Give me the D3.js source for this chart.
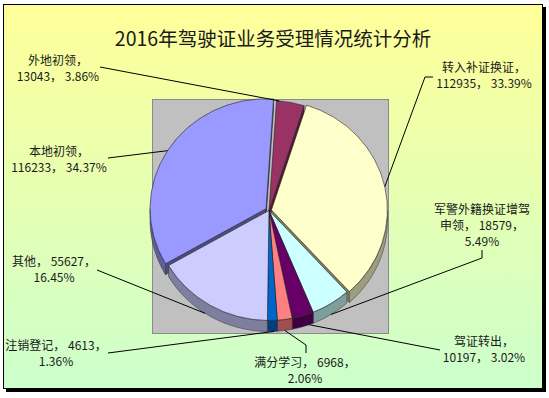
<!DOCTYPE html>
<html><head><meta charset="utf-8">
<script src="https://cdn.jsdelivr.net/npm/d3@7"></script>
<style>html,body{margin:0;padding:0;background:#fff;} svg{display:block;}</style>
</head><body>
<svg id="chart" width="549" height="398"></svg>
<script>
// ---------- DATA ----------
const categories = ["本地初领","外地初领","转入补证换证","军警外籍换证增驾申领","驾证转出","满分学习","注销登记","其他"];
const values = [116233,13043,112935,18579,10197,6968,4613,55627];
const colors = ["#9999FF","#993366","#FFFFCC","#CCFFFF","#660066","#FF8080","#0066CC","#CCCCFF"];
const title = "2016年驾驶证业务受理情况统计分析";

// ---------- LAYOUT ----------
const firstSliceAngle = 240;           // degrees, clockwise from 12 o'clock
const explode = [3.5,0,2.5,0,0,0,0,0]; // px
const labelLayout = [
  {split:"name", x:59,  y:152, anchorFrac:0.5,  leader:[[108,158]]},
  {split:"name", x:58,  y:61,  anchorFrac:0.1,  leader:[[100,67]]},
  {split:"name", x:484, y:68,  anchorFrac:0.5,  leader:[[433,77],[425,77]]},
  {split:"jj",   x:482, y:210, anchorFrac:0.5,  leader:[[482,250],[482,258]]},
  {split:"name", x:484, y:342, anchorFrac:0.2,  leader:[[440,350]]},
  {split:"pct",  x:305, y:363, anchorFrac:0.5,  leader:[[306,353],[306,345]]},
  {split:"pct",  x:56,  y:346, anchorFrac:0.3,  leader:[[108,353]]},
  {split:"pct",  x:54,  y:262, anchorFrac:0.55, leader:[[97,270]]}
];

const W = 549, H = 398;
const cx = 269, cy = 210.5, rx = 116, ry = 110, depth = 11;
const plot = {x:152, y:99, w:236, h:234};

const svg = d3.select("#chart");
const defs = svg.append("defs");
const grad = defs.append("linearGradient").attr("id","bg").attr("x1",0).attr("y1",0).attr("x2",0).attr("y2",1);
grad.append("stop").attr("offset","0%").attr("stop-color","#FFFF99");
grad.append("stop").attr("offset","100%").attr("stop-color","#CCFFCC");

// frame with shadow
svg.append("rect").attr("x",6).attr("y",7).attr("width",540).attr("height",385).attr("fill","#000");
svg.append("rect").attr("x",3.5).attr("y",4.5).attr("width",539).attr("height",384)
  .attr("fill","url(#bg)").attr("stroke","#000").attr("stroke-width",1);

// title
svg.append("text").attr("x",273).attr("y",46).attr("text-anchor","middle")
  .attr("font-family","'Noto Sans CJK SC', sans-serif").attr("font-size",19.5).attr("fill","#1a1a1a")
  .text(title);

// plot area
svg.append("rect").attr("x",plot.x+0.5).attr("y",plot.y+0.5).attr("width",plot.w).attr("height",plot.h)
  .attr("fill","#C0C0C0").attr("stroke","#8a8a8a").attr("stroke-width",1);

// ---------- PIE ----------
const toRad = d => d*Math.PI/180;
const total = d3.sum(values);
const fmtPct = d3.format(".2%");
const data = categories.map((c,i)=>({name:c, value:values[i], color:colors[i], explode:explode[i], layout:labelLayout[i]}));
const pie = d3.pie().sort(null).value(d=>d.value)
  .startAngle(toRad(firstSliceAngle)).endAngle(toRad(firstSliceAngle)+2*Math.PI);
const arcs = pie(data);
arcs.forEach(a=>{
  const m = (a.startAngle+a.endAngle)/2;
  a.mid = m;
  a.off = [a.data.explode*Math.sin(m), -a.data.explode*Math.cos(m)*ry/rx];
});
function P(t, r, off, z){ return [cx+off[0]+r*rx*Math.sin(t), cy+off[1]-r*ry*Math.cos(t)+z]; }
const line = d3.line();
const dark = (c,k)=>{ const o=d3.rgb(c); return d3.rgb(o.r*k,o.g*k,o.b*k).formatHex(); };

const gPie = svg.append("g");

// cut faces
arcs.forEach(a=>{
  const faces = [];
  if (Math.sin(a.startAngle) < 0) faces.push(a.startAngle);
  if (Math.sin(a.endAngle) > 0) faces.push(a.endAngle);
  faces.forEach(t=>{
    const pts = [P(t,0,a.off,0),P(t,1,a.off,0),P(t,1,a.off,depth),P(t,0,a.off,depth)];
    gPie.append("path").attr("d", line(pts)+"Z").attr("fill", dark(a.data.color,0.5))
      .attr("stroke","#222").attr("stroke-width",0.4);
  });
});

// outer walls (front half)
arcs.forEach(a=>{
  [0,1].forEach(k=>{
    const lo = Math.max(a.startAngle, Math.PI/2 + 2*Math.PI*k);
    const hi = Math.min(a.endAngle, 3*Math.PI/2 + 2*Math.PI*k);
    if (hi <= lo) return;
    const n = Math.max(2, Math.ceil((hi-lo)/0.02));
    const ts = d3.range(n+1).map(i=>lo+(hi-lo)*i/n);
    const pts = ts.map(t=>P(t,1,a.off,0)).concat(ts.slice().reverse().map(t=>P(t,1,a.off,depth)));
    gPie.append("path").attr("d", line(pts)+"Z").attr("fill", dark(a.data.color,0.62))
      .attr("stroke","#333").attr("stroke-width",0.5);
  });
});

// top faces
const arcGen = d3.arc().innerRadius(0).outerRadius(rx);
gPie.selectAll("path.top").data(arcs).join("path").attr("class","top")
  .attr("d", arcGen)
  .attr("transform", a=>`translate(${cx+a.off[0]},${cy+a.off[1]}) scale(1,${ry/rx})`)
  .attr("fill", a=>a.data.color)
  .attr("stroke","#222").attr("stroke-width",0.6)
  .attr("vector-effect","non-scaling-stroke");

// ---------- LABELS ----------
const gLab = svg.append("g");
arcs.forEach(a=>{
  const L = a.data.layout;
  const t = a.startAngle + (a.endAngle-a.startAngle)*L.anchorFrac;
  const anchor = P(t,1,a.off, Math.cos(t) < 0 ? depth : 0);
  gLab.append("path").attr("d", line(L.leader.concat([anchor])))
    .attr("fill","none").attr("stroke","#000").attr("stroke-width",1);
  const v = a.data.value, pct = fmtPct(v/total), nm = a.data.name;
  let lines;
  if (L.split === "name") lines = [nm+"，", v+"， "+pct];
  else if (L.split === "pct") lines = [nm+"， "+v+"，", pct];
  else lines = [nm.slice(0,8), nm.slice(8)+"， "+v+"，", pct];
  lines.forEach((s,i)=>{
    gLab.append("text").attr("x",L.x).attr("y",L.y+4.3+i*16).attr("text-anchor","middle")
      .attr("font-family","'Noto Sans CJK SC', sans-serif").attr("font-size",12).attr("fill","#1a1a1a")
      .text(s);
  });
});
</script>
</body></html>
